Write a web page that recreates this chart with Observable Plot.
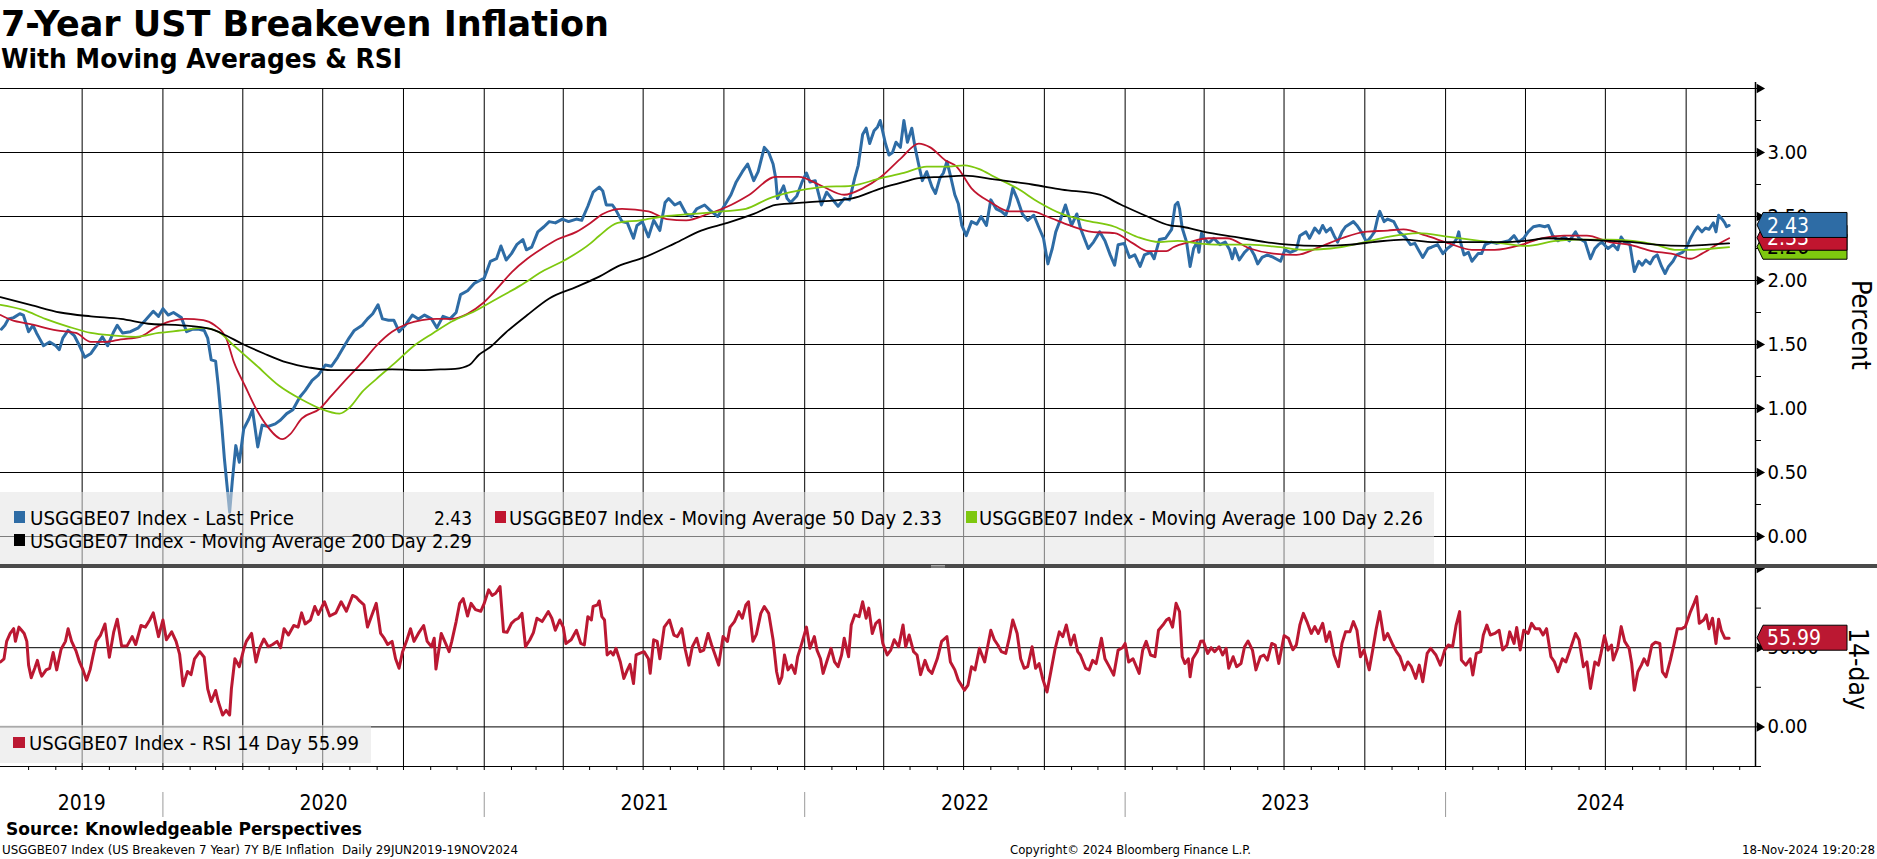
<!DOCTYPE html>
<html><head><meta charset="utf-8">
<script src="https://cdn.jsdelivr.net/npm/d3@7"></script>
<script src="https://cdn.jsdelivr.net/npm/@observablehq/plot@0.6"></script>
<style>
html,body{margin:0;padding:0;background:#fff;}
body{width:1877px;height:859px;overflow:hidden;position:relative;font-family:'DejaVu Sans Condensed','DejaVu Sans',sans-serif;}
#upper{position:absolute;left:0;top:70px;}
#lower{position:absolute;left:0;top:568px;}
#ov{position:absolute;left:0;top:0;pointer-events:none;}
</style></head>
<body>
<div id="upper"></div>
<div id="lower"></div>
<svg id="ov" width="1877" height="859"></svg>
<script>
// ---------- DATA ----------
const lastPrice = [
["2019-07-01",1.62],["2019-07-05",1.65],["2019-07-09",1.70],["2019-07-15",1.71],["2019-07-22",1.74],["2019-07-26",1.73],["2019-08-01",1.60],["2019-08-06",1.65],["2019-08-10",1.59],["2019-08-14",1.54],["2019-08-18",1.49],["2019-08-25",1.52],["2019-09-01",1.49],["2019-09-05",1.46],["2019-09-09",1.55],["2019-09-15",1.61],["2019-09-22",1.57],["2019-09-28",1.49],["2019-10-04",1.40],["2019-10-11",1.43],["2019-10-17",1.49],["2019-10-24",1.56],["2019-10-30",1.49],["2019-11-06",1.60],["2019-11-10",1.65],["2019-11-16",1.59],["2019-11-25",1.60],["2019-12-04",1.63],["2019-12-12",1.69],["2019-12-21",1.76],["2019-12-27",1.72],
["2020-01-01",1.78],["2020-01-07",1.73],["2020-01-13",1.75],["2020-01-22",1.71],["2020-01-28",1.60],["2020-02-04",1.62],["2020-02-10",1.62],["2020-02-17",1.61],["2020-02-21",1.55],["2020-02-25",1.38],["2020-03-01",1.37],["2020-03-04",1.18],["2020-03-08",0.87],["2020-03-11",0.61],["2020-03-14",0.40],["2020-03-17",0.19],["2020-03-20",0.43],["2020-03-24",0.71],["2020-03-28",0.58],["2020-04-02",0.84],["2020-04-08",0.92],["2020-04-12",0.99],["2020-04-18",0.70],["2020-04-23",0.87],["2020-04-30",0.86],["2020-05-08",0.88],["2020-05-14",0.91],["2020-05-21",0.96],["2020-05-28",0.99],["2020-06-05",1.09],["2020-06-11",1.14],["2020-06-19",1.22],["2020-06-26",1.26],["2020-07-04",1.34],["2020-07-11",1.33],["2020-07-18",1.40],["2020-07-24",1.47],["2020-07-31",1.55],["2020-08-06",1.61],["2020-08-15",1.65],["2020-08-21",1.70],["2020-08-27",1.74],["2020-09-02",1.81],["2020-09-07",1.70],["2020-09-14",1.69],["2020-09-20",1.69],["2020-09-26",1.60],["2020-10-03",1.65],["2020-10-11",1.73],["2020-10-18",1.70],["2020-10-25",1.73],["2020-11-02",1.70],["2020-11-08",1.63],["2020-11-15",1.72],["2020-11-23",1.70],["2020-11-30",1.75],["2020-12-05",1.89],["2020-12-13",1.92],["2020-12-21",1.98],["2020-12-27",2.00],
["2021-01-01",2.02],["2021-01-08",2.15],["2021-01-15",2.17],["2021-01-20",2.27],["2021-01-26",2.16],["2021-02-01",2.21],["2021-02-07",2.28],["2021-02-14",2.32],["2021-02-18",2.24],["2021-02-24",2.26],["2021-03-03",2.38],["2021-03-10",2.42],["2021-03-16",2.46],["2021-03-23",2.45],["2021-03-31",2.48],["2021-04-07",2.46],["2021-04-16",2.48],["2021-04-22",2.47],["2021-04-29",2.58],["2021-05-05",2.69],["2021-05-12",2.73],["2021-05-16",2.70],["2021-05-20",2.59],["2021-05-27",2.59],["2021-05-31",2.55],["2021-06-07",2.46],["2021-06-13",2.45],["2021-06-20",2.33],["2021-06-24",2.43],["2021-06-30",2.46],["2021-07-07",2.34],["2021-07-13",2.47],["2021-07-20",2.39],["2021-07-26",2.61],["2021-07-30",2.64],["2021-08-06",2.59],["2021-08-12",2.61],["2021-08-19",2.52],["2021-08-25",2.50],["2021-08-31",2.56],["2021-09-09",2.59],["2021-09-15",2.55],["2021-09-24",2.50],["2021-10-02",2.59],["2021-10-09",2.67],["2021-10-15",2.77],["2021-10-22",2.85],["2021-10-28",2.91],["2021-11-04",2.78],["2021-11-09",2.85],["2021-11-16",3.04],["2021-11-21",3.00],["2021-11-26",2.91],["2021-11-29",2.80],["2021-12-01",2.64],["2021-12-08",2.74],["2021-12-12",2.64],["2021-12-16",2.61],["2021-12-23",2.66],["2021-12-29",2.77],
["2022-01-03",2.84],["2022-01-07",2.77],["2022-01-13",2.78],["2022-01-20",2.59],["2022-01-26",2.69],["2022-02-02",2.63],["2022-02-08",2.58],["2022-02-15",2.64],["2022-02-21",2.63],["2022-02-27",2.80],["2022-03-03",2.90],["2022-03-08",3.14],["2022-03-12",3.19],["2022-03-16",3.07],["2022-03-21",3.17],["2022-03-25",3.20],["2022-03-28",3.25],["2022-04-03",3.07],["2022-04-07",2.98],["2022-04-11",3.00],["2022-04-15",3.08],["2022-04-20",3.04],["2022-04-24",3.25],["2022-04-28",3.08],["2022-05-03",3.19],["2022-05-07",3.03],["2022-05-11",2.90],["2022-05-15",2.78],["2022-05-20",2.85],["2022-05-26",2.73],["2022-05-30",2.68],["2022-06-04",2.80],["2022-06-08",2.84],["2022-06-12",2.93],["2022-06-16",2.82],["2022-06-21",2.67],["2022-06-25",2.60],["2022-06-29",2.43],["2022-07-04",2.35],["2022-07-10",2.46],["2022-07-16",2.44],["2022-07-21",2.50],["2022-07-27",2.43],["2022-08-01",2.63],["2022-08-07",2.56],["2022-08-13",2.54],["2022-08-18",2.51],["2022-08-22",2.59],["2022-08-26",2.72],["2022-08-31",2.64],["2022-09-06",2.52],["2022-09-12",2.47],["2022-09-19",2.51],["2022-09-25",2.41],["2022-09-30",2.33],["2022-10-05",2.13],["2022-10-10",2.25],["2022-10-14",2.38],["2022-10-19",2.47],["2022-10-25",2.59],["2022-11-01",2.43],["2022-11-07",2.52],["2022-11-11",2.41],["2022-11-16",2.32],["2022-11-20",2.25],["2022-11-26",2.30],["2022-12-03",2.38],["2022-12-09",2.31],["2022-12-15",2.20],["2022-12-20",2.12],["2022-12-24",2.28],["2022-12-31",2.29],
["2023-01-06",2.18],["2023-01-12",2.20],["2023-01-18",2.11],["2023-01-23",2.20],["2023-01-30",2.22],["2023-02-03",2.17],["2023-02-09",2.32],["2023-02-16",2.33],["2023-02-23",2.40],["2023-02-27",2.59],["2023-03-02",2.61],["2023-03-04",2.56],["2023-03-07",2.41],["2023-03-12",2.30],["2023-03-16",2.11],["2023-03-20",2.25],["2023-03-24",2.30],["2023-03-26",2.22],["2023-03-29",2.37],["2023-04-01",2.33],["2023-04-06",2.29],["2023-04-12",2.33],["2023-04-19",2.28],["2023-04-25",2.30],["2023-04-30",2.24],["2023-05-03",2.17],["2023-05-06",2.25],["2023-05-11",2.16],["2023-05-17",2.22],["2023-05-23",2.26],["2023-05-28",2.20],["2023-06-01",2.13],["2023-06-06",2.18],["2023-06-12",2.20],["2023-06-19",2.18],["2023-06-27",2.15],["2023-07-02",2.24],["2023-07-08",2.22],["2023-07-15",2.24],["2023-07-19",2.35],["2023-07-26",2.38],["2023-07-30",2.33],["2023-08-05",2.41],["2023-08-10",2.37],["2023-08-14",2.43],["2023-08-18",2.38],["2023-08-23",2.41],["2023-08-27",2.35],["2023-08-31",2.30],["2023-09-05",2.38],["2023-09-09",2.42],["2023-09-18",2.46],["2023-09-22",2.43],["2023-09-27",2.38],["2023-10-03",2.30],["2023-10-08",2.34],["2023-10-12",2.38],["2023-10-16",2.50],["2023-10-18",2.54],["2023-10-23",2.46],["2023-10-27",2.48],["2023-11-03",2.46],["2023-11-09",2.38],["2023-11-16",2.34],["2023-11-22",2.28],["2023-11-27",2.29],["2023-12-01",2.24],["2023-12-06",2.18],["2023-12-12",2.25],["2023-12-16",2.26],["2023-12-23",2.28],["2023-12-29",2.21],
["2024-01-03",2.25],["2024-01-09",2.28],["2024-01-14",2.33],["2024-01-16",2.38],["2024-01-18",2.30],["2024-01-22",2.20],["2024-01-27",2.22],["2024-01-31",2.15],["2024-02-07",2.21],["2024-02-11",2.21],["2024-02-15",2.28],["2024-02-22",2.30],["2024-02-28",2.29],["2024-03-06",2.30],["2024-03-13",2.31],["2024-03-19",2.35],["2024-03-24",2.30],["2024-03-30",2.33],["2024-04-04",2.38],["2024-04-10",2.42],["2024-04-17",2.43],["2024-04-23",2.42],["2024-04-27",2.43],["2024-05-02",2.35],["2024-05-08",2.31],["2024-05-15",2.34],["2024-05-21",2.31],["2024-05-28",2.38],["2024-06-01",2.33],["2024-06-08",2.30],["2024-06-14",2.17],["2024-06-19",2.25],["2024-06-23",2.28],["2024-06-27",2.30],["2024-07-04",2.25],["2024-07-10",2.28],["2024-07-15",2.24],["2024-07-19",2.34],["2024-07-23",2.30],["2024-07-29",2.28],["2024-08-01",2.15],["2024-08-03",2.07],["2024-08-08",2.15],["2024-08-12",2.12],["2024-08-16",2.16],["2024-08-21",2.13],["2024-08-25",2.18],["2024-08-29",2.20],["2024-09-03",2.11],["2024-09-07",2.055],["2024-09-11",2.11],["2024-09-16",2.15],["2024-09-20",2.20],["2024-09-27",2.22],["2024-10-01",2.25],["2024-10-06",2.33],["2024-10-10",2.38],["2024-10-14",2.42],["2024-10-19",2.38],["2024-10-23",2.41],["2024-10-27",2.40],["2024-11-01",2.45],["2024-11-04",2.38],["2024-11-07",2.51],["2024-11-12",2.47],["2024-11-14",2.45],["2024-11-16",2.42],["2024-11-19",2.43]
];
const ma50 = [
["2019-06-30",1.73],["2019-07-13",1.69],["2019-08-03",1.66],["2019-09-02",1.61],["2019-09-24",1.59],["2019-10-11",1.52],["2019-10-28",1.52],["2019-11-14",1.54],["2019-12-06",1.56],["2019-12-23",1.63],["2020-01-09",1.68],["2020-01-26",1.70],["2020-02-16",1.69],["2020-02-29",1.65],["2020-03-13",1.55],["2020-03-22",1.36],["2020-04-04",1.17],["2020-04-16",1.00],["2020-04-29",0.86],["2020-05-16",0.76],["2020-05-25",0.80],["2020-06-07",0.92],["2020-06-28",1.00],["2020-07-11",1.10],["2020-07-28",1.23],["2020-08-15",1.36],["2020-08-31",1.49],["2020-09-18",1.60],["2020-10-05",1.66],["2020-10-22",1.69],["2020-11-08",1.70],["2020-11-25",1.70],["2020-12-13",1.74],["2020-12-30",1.82],["2021-01-16",1.94],["2021-02-02",2.07],["2021-02-19",2.17],["2021-03-08",2.25],["2021-03-25",2.32],["2021-04-16",2.38],["2021-05-02",2.45],["2021-05-16",2.52],["2021-06-07",2.56],["2021-07-07",2.54],["2021-07-28",2.48],["2021-08-19",2.47],["2021-09-13",2.52],["2021-10-09",2.59],["2021-10-30",2.67],["2021-11-29",2.81],["2021-12-25",2.81],["2022-01-20",2.74],["2022-02-15",2.67],["2022-03-08",2.72],["2022-03-29",2.81],["2022-04-20",2.95],["2022-05-11",3.07],["2022-05-24",3.04],["2022-06-10",2.94],["2022-06-23",2.89],["2022-07-10",2.72],["2022-08-01",2.61],["2022-08-22",2.54],["2022-09-17",2.54],["2022-10-04",2.50],["2022-10-30",2.43],["2022-11-24",2.38],["2022-12-20",2.37],["2023-01-10",2.29],["2023-01-27",2.23],["2023-02-17",2.23],["2023-02-25",2.26],["2023-03-15",2.30],["2023-04-06",2.33],["2023-04-27",2.33],["2023-05-23",2.25],["2023-06-19",2.21],["2023-07-15",2.20],["2023-08-10",2.26],["2023-09-05",2.33],["2023-10-01",2.38],["2023-10-27",2.39],["2023-11-14",2.40],["2023-12-10",2.35],["2024-01-05",2.29],["2024-01-31",2.24],["2024-02-26",2.24],["2024-03-28",2.28],["2024-04-19",2.33],["2024-05-15",2.35],["2024-06-10",2.35],["2024-07-06",2.30],["2024-07-28",2.28],["2024-08-23",2.23],["2024-09-14",2.21],["2024-10-06",2.17],["2024-10-19",2.21],["2024-11-05",2.28],["2024-11-19",2.33]
];
const ma100 = [
["2019-06-30",1.81],["2019-07-26",1.77],["2019-08-20",1.70],["2019-09-15",1.64],["2019-10-11",1.59],["2019-11-06",1.57],["2019-12-01",1.56],["2019-12-27",1.59],["2020-01-22",1.61],["2020-02-16",1.63],["2020-03-04",1.60],["2020-03-22",1.49],["2020-04-16",1.34],["2020-05-12",1.18],["2020-06-07",1.07],["2020-06-28",1.00],["2020-07-20",0.96],["2020-08-01",1.01],["2020-08-15",1.13],["2020-08-31",1.23],["2020-09-22",1.36],["2020-10-13",1.49],["2020-11-04",1.59],["2020-11-25",1.68],["2020-12-21",1.76],["2021-01-16",1.86],["2021-02-11",1.96],["2021-03-08",2.07],["2021-04-03",2.16],["2021-05-02",2.29],["2021-05-12",2.35],["2021-06-02",2.45],["2021-06-28",2.47],["2021-07-24",2.50],["2021-08-27",2.52],["2021-09-30",2.54],["2021-10-26",2.56],["2021-11-21",2.64],["2021-12-16",2.69],["2022-01-20",2.73],["2022-02-23",2.74],["2022-03-29",2.80],["2022-04-24",2.84],["2022-05-20",2.89],["2022-06-14",2.89],["2022-07-02",2.90],["2022-07-19",2.87],["2022-08-05",2.81],["2022-08-31",2.72],["2022-09-25",2.61],["2022-10-21",2.52],["2022-11-16",2.47],["2022-12-20",2.42],["2023-01-15",2.34],["2023-02-09",2.30],["2023-03-02",2.31],["2023-03-24",2.29],["2023-04-19",2.28],["2023-05-23",2.28],["2023-06-27",2.26],["2023-07-23",2.24],["2023-08-23",2.25],["2023-10-01",2.30],["2023-10-27",2.34],["2023-12-01",2.37],["2024-01-05",2.34],["2024-02-09",2.31],["2024-03-06",2.29],["2024-04-01",2.27],["2024-05-06",2.31],["2024-06-01",2.32],["2024-07-06",2.32],["2024-08-01",2.31],["2024-08-27",2.28],["2024-09-18",2.24],["2024-10-10",2.24],["2024-11-01",2.25],["2024-11-19",2.26]
];
const ma200 = [
["2019-06-30",1.87],["2019-08-03",1.81],["2019-09-06",1.75],["2019-10-11",1.72],["2019-11-14",1.70],["2019-12-19",1.66],["2020-01-22",1.65],["2020-02-25",1.62],["2020-03-13",1.57],["2020-03-30",1.51],["2020-04-25",1.43],["2020-05-21",1.36],["2020-06-16",1.32],["2020-07-11",1.30],["2020-08-15",1.30],["2020-09-18",1.305],["2020-10-22",1.30],["2020-11-12",1.305],["2020-11-29",1.31],["2020-12-15",1.34],["2020-12-26",1.42],["2021-01-08",1.48],["2021-01-25",1.59],["2021-02-19",1.73],["2021-03-16",1.86],["2021-04-16",1.95],["2021-05-12",2.03],["2021-06-02",2.11],["2021-07-02",2.18],["2021-08-06",2.29],["2021-09-05",2.39],["2021-10-05",2.45],["2021-11-04",2.52],["2021-11-29",2.59],["2022-01-03",2.61],["2022-02-23",2.64],["2022-03-29",2.72],["2022-04-24",2.77],["2022-05-11",2.80],["2022-06-06",2.81],["2022-07-02",2.82],["2022-08-05",2.79],["2022-09-17",2.75],["2022-10-21",2.71],["2022-12-03",2.67],["2022-12-28",2.59],["2023-01-23",2.51],["2023-02-21",2.43],["2023-03-07",2.42],["2023-04-01",2.38],["2023-05-06",2.34],["2023-06-10",2.30],["2023-07-06",2.28],["2023-08-10",2.27],["2023-09-14",2.28],["2023-10-10",2.30],["2023-11-14",2.32],["2023-12-19",2.30],["2024-01-22",2.30],["2024-03-06",2.30],["2024-04-01",2.31],["2024-04-27",2.33],["2024-06-01",2.32],["2024-07-06",2.31],["2024-08-01",2.30],["2024-08-27",2.28],["2024-10-01",2.27],["2024-10-27",2.28],["2024-11-19",2.29]
];
const rsi14 = [
["2019-06-30",41],["2019-07-04",43],["2019-07-07",54],["2019-07-11",59],["2019-07-15",62],["2019-07-17",54],["2019-07-21",63],["2019-07-24",61],["2019-07-27",59],["2019-07-30",54],["2019-08-01",39],["2019-08-04",31],["2019-08-08",37],["2019-08-11",42],["2019-08-14",35],["2019-08-16",32],["2019-08-21",36],["2019-08-25",37],["2019-08-29",47],["2019-09-02",36],["2019-09-07",49],["2019-09-12",54],["2019-09-15",62],["2019-09-19",54],["2019-09-24",48],["2019-09-28",41],["2019-10-02",36],["2019-10-06",29.5],["2019-10-10",36],["2019-10-13",44],["2019-10-17",54],["2019-10-22",58],["2019-10-27",65],["2019-11-01",44],["2019-11-06",60],["2019-11-10",68],["2019-11-15",51],["2019-11-21",51],["2019-11-27",57],["2019-12-01",52],["2019-12-07",64],["2019-12-12",63],["2019-12-17",67.5],["2019-12-21",72],["2019-12-27",57],
["2020-01-01",67.5],["2020-01-05",55],["2020-01-11",60],["2020-01-16",54],["2020-01-20",46],["2020-01-24",26],["2020-01-29",35],["2020-02-02",33],["2020-02-06",43],["2020-02-12",47.5],["2020-02-17",44],["2020-02-21",24],["2020-02-25",16],["2020-03-01",23],["2020-03-04",16],["2020-03-09",7.5],["2020-03-13",10.5],["2020-03-17",7.5],["2020-03-19",24],["2020-03-23",43],["2020-03-28",38],["2020-04-02",49],["2020-04-05",54],["2020-04-11",59],["2020-04-16",41],["2020-04-20",49.6],["2020-04-25",55.5],["2020-04-30",50.6],["2020-05-05",52],["2020-05-10",54],["2020-05-14",50],["2020-05-18",62],["2020-05-23",58],["2020-05-29",64],["2020-06-03",63],["2020-06-07",72],["2020-06-11",65],["2020-06-17",67.5],["2020-06-22",76],["2020-06-26",71],["2020-07-03",79],["2020-07-09",70],["2020-07-16",72],["2020-07-22",79],["2020-07-28",73],["2020-08-04",83],["2020-08-08",82],["2020-08-12",79.5],["2020-08-17",77],["2020-08-21",63],["2020-08-27",72],["2020-08-31",78],["2020-09-05",59],["2020-09-09",56],["2020-09-13",52],["2020-09-18",54],["2020-09-22",43],["2020-09-26",37],["2020-09-30",47.5],["2020-10-05",55],["2020-10-09",62],["2020-10-13",54],["2020-10-18",59],["2020-10-24",64],["2020-10-28",54],["2020-11-02",50.6],["2020-11-05",56],["2020-11-07",36.5],["2020-11-10",47.5],["2020-11-13",59],["2020-11-18",52.7],["2020-11-22",47.5],["2020-11-25",54],["2020-11-30",66.5],["2020-12-04",78],["2020-12-08",81],["2020-12-13",70],["2020-12-17",78],["2020-12-22",74],["2020-12-28",73],
["2021-01-01",78],["2021-01-06",86.5],["2021-01-10",83],["2021-01-14",84.4],["2021-01-19",88.6],["2021-01-23",60],["2021-01-27",59.7],["2021-02-01",65.4],["2021-02-05",67.5],["2021-02-09",68.6],["2021-02-13",71.7],["2021-02-17",50.6],["2021-02-22",55],["2021-02-26",59.5],["2021-03-02",68.6],["2021-03-08",66.5],["2021-03-15",72.8],["2021-03-19",68.6],["2021-03-23",61],["2021-03-28",67.5],["2021-04-01",63],["2021-04-04",52.7],["2021-04-10",55],["2021-04-16",61],["2021-04-21",52.7],["2021-04-25",51.7],["2021-04-29",69.6],["2021-05-03",67.5],["2021-05-05",76],["2021-05-10",77],["2021-05-12",79.5],["2021-05-15",69.6],["2021-05-18",67.5],["2021-05-21",45.4],["2021-05-25",47.5],["2021-05-28",45.4],["2021-05-31",49.6],["2021-06-05",41],["2021-06-09",30.6],["2021-06-13",36],["2021-06-16",39.5],["2021-06-20",27.4],["2021-06-23",45.4],["2021-06-27",46.4],["2021-07-02",47.5],["2021-07-07",43],["2021-07-09",33.8],["2021-07-13",55],["2021-07-17",54],["2021-07-20",43],["2021-07-25",63],["2021-07-31",67.5],["2021-08-05",58],["2021-08-09",57],["2021-08-14",62],["2021-08-18",48.7],["2021-08-22",39],["2021-08-26",50.6],["2021-08-31",56],["2021-09-04",47.5],["2021-09-08",48.5],["2021-09-13",59],["2021-09-17",51.7],["2021-09-21",45.4],["2021-09-25",39],["2021-09-30",57],["2021-10-05",54],["2021-10-08",63],["2021-10-13",66.5],["2021-10-18",72.8],["2021-10-22",68.6],["2021-10-26",77],["2021-10-29",79],["2021-11-03",54],["2021-11-07",58.4],["2021-11-12",71.7],["2021-11-16",76],["2021-11-21",71.7],["2021-11-26",55],["2021-11-30",34.8],["2021-12-03",27.4],["2021-12-06",31.6],["2021-12-09",45.4],["2021-12-13",36],["2021-12-17",39],["2021-12-21",33.8],["2021-12-24",44.3],["2021-12-27",49.6],
["2022-01-01",59],["2022-01-03",63],["2022-01-07",49.6],["2022-01-12",57],["2022-01-15",48.5],["2022-01-19",43],["2022-01-22",33.8],["2022-01-26",41],["2022-01-31",49.6],["2022-02-04",41],["2022-02-08",38],["2022-02-12",45.4],["2022-02-15",56],["2022-02-20",44.3],["2022-02-23",64.3],["2022-02-27",70.7],["2022-03-04",69.6],["2022-03-08",79],["2022-03-12",68.6],["2022-03-15",75],["2022-03-19",59],["2022-03-23",65.4],["2022-03-27",67.5],["2022-03-31",52.7],["2022-04-05",45.4],["2022-04-09",48.5],["2022-04-13",55],["2022-04-18",50.6],["2022-04-23",64.3],["2022-04-26",50.6],["2022-04-30",58],["2022-05-05",47.5],["2022-05-09",45.4],["2022-05-13",33],["2022-05-18",42],["2022-05-22",36],["2022-05-26",33.8],["2022-06-01",43],["2022-06-06",54],["2022-06-12",57],["2022-06-16",41],["2022-06-21",36],["2022-06-25",29.5],["2022-07-02",23.2],["2022-07-06",26.4],["2022-07-10",38],["2022-07-14",36],["2022-07-19",49.6],["2022-07-25",41],["2022-08-01",61],["2022-08-05",55],["2022-08-09",51.7],["2022-08-13",47.5],["2022-08-18",46.4],["2022-08-22",56],["2022-08-26",67.5],["2022-08-31",59],["2022-09-04",43],["2022-09-08",37],["2022-09-12",38],["2022-09-17",50.6],["2022-09-21",37],["2022-09-25",40],["2022-09-29",30.6],["2022-10-04",22],["2022-10-08",33.8],["2022-10-13",48.7],["2022-10-18",60],["2022-10-22",57],["2022-10-26",64.3],["2022-10-31",51.7],["2022-11-04",58],["2022-11-08",47.5],["2022-11-11",45.4],["2022-11-17",37],["2022-11-21",36],["2022-11-25",42],["2022-11-29",40],["2022-12-05",56],["2022-12-09",43],["2022-12-13",39],["2022-12-19",32.7],["2022-12-24",48.5],["2022-12-29",50],
["2023-01-01",52.7],["2023-01-05",41],["2023-01-10",43],["2023-01-17",33.8],["2023-01-21",48.5],["2023-01-25",54],["2023-01-30",45.4],["2023-02-04",44.3],["2023-02-08",61],["2023-02-13",64.3],["2023-02-17",67.5],["2023-02-20",68.6],["2023-02-24",63],["2023-02-28",78],["2023-03-04",72.8],["2023-03-07",44.3],["2023-03-10",40],["2023-03-14",43],["2023-03-16",31.6],["2023-03-19",43],["2023-03-24",47.5],["2023-03-28",54],["2023-03-31",54.2],["2023-04-05",46.4],["2023-04-09",50],["2023-04-13",47.5],["2023-04-18",50.6],["2023-04-22",45.4],["2023-04-26",49.6],["2023-04-29",37],["2023-05-04",44.3],["2023-05-08",38],["2023-05-13",40],["2023-05-17",50.6],["2023-05-21",54.2],["2023-05-26",48.5],["2023-05-30",36],["2023-06-04",44.3],["2023-06-08",45.4],["2023-06-12",42.2],["2023-06-17",52.7],["2023-06-21",51.7],["2023-06-25",40],["2023-07-01",57.6],["2023-07-06",56],["2023-07-11",48.7],["2023-07-15",51.7],["2023-07-19",64.3],["2023-07-23",71.7],["2023-07-27",66.5],["2023-08-01",59],["2023-08-05",63.3],["2023-08-09",59],["2023-08-14",65.4],["2023-08-18",54],["2023-08-22",60],["2023-08-27",45.4],["2023-09-01",38],["2023-09-05",52.7],["2023-09-09",60],["2023-09-14",60],["2023-09-18",66.5],["2023-09-22",61],["2023-09-26",44.3],["2023-09-30",48.5],["2023-10-06",36],["2023-10-10",48.5],["2023-10-14",62],["2023-10-18",72.8],["2023-10-23",55],["2023-10-27",59],["2023-11-02",51.7],["2023-11-06",47.5],["2023-11-10",44.3],["2023-11-15",36],["2023-11-19",41],["2023-11-23",38],["2023-11-28",30.6],["2023-12-02",39],["2023-12-06",28.5],["2023-12-11",46.4],["2023-12-15",49.6],["2023-12-21",45.4],["2023-12-26",39],["2023-12-31",48.5],
["2024-01-04",51.7],["2024-01-09",50.6],["2024-01-13",64.3],["2024-01-17",72.8],["2024-01-19",42.2],["2024-01-24",39],["2024-01-29",43],["2024-02-01",32.7],["2024-02-05",46.4],["2024-02-10",47.5],["2024-02-13",58],["2024-02-17",64.3],["2024-02-21",58],["2024-02-26",59],["2024-03-02",61],["2024-03-06",48.5],["2024-03-11",51.7],["2024-03-14",60],["2024-03-19",52.7],["2024-03-22",62.7],["2024-03-26",48.5],["2024-03-30",61],["2024-04-04",59],["2024-04-08",65.4],["2024-04-12",62],["2024-04-17",62],["2024-04-21",58],["2024-04-25",62],["2024-04-30",44.3],["2024-05-04",41],["2024-05-08",34.8],["2024-05-13",43],["2024-05-17",41],["2024-05-21",47.5],["2024-05-28",59],["2024-06-01",55],["2024-06-06",38],["2024-06-10",41],["2024-06-14",24.3],["2024-06-19",41],["2024-06-23",39],["2024-06-26",46.4],["2024-06-30",57.6],["2024-07-04",48.5],["2024-07-08",51.7],["2024-07-10",42.2],["2024-07-15",49.6],["2024-07-19",63.3],["2024-07-23",54],["2024-07-28",49.6],["2024-07-31",40],["2024-08-03",23.2],["2024-08-07",34.8],["2024-08-11",39],["2024-08-14",43],["2024-08-18",39],["2024-08-23",51.7],["2024-08-27",53.4],["2024-09-01",52.7],["2024-09-04",34.8],["2024-09-08",31.6],["2024-09-13",42.2],["2024-09-17",51.7],["2024-09-21",62],["2024-09-26",62],["2024-09-30",63.3],["2024-10-06",72.8],["2024-10-10",78],["2024-10-13",82.3],["2024-10-16",65.4],["2024-10-21",67.5],["2024-10-24",70.7],["2024-10-27",62],["2024-10-31",68.6],["2024-11-04",52.7],["2024-11-07",68],["2024-11-10",61],["2024-11-14",56],["2024-11-19",55.99]
];
const priceGrid = [0, 0.5, 1, 1.5, 2, 2.5, 3, 3.5];
const priceLabels = [0, 0.5, 1, 1.5, 2, 2.5, 3];
const priceMinor = [-0.25, 0, 0.25, 0.5, 0.75, 1, 1.25, 1.5, 1.75, 2, 2.25, 2.5, 2.75, 3, 3.25, 3.5];
const rsiGrid = [0, 50];
const rsiArrows = [0, 50, 100];
const rsiMinor = [-25, 0, 25, 50, 75, 100];
const dateRange = ["2019-06-30", "2024-12-19"];
const seriesName = "USGGBE07 Index";

// ---------- CHART ----------
const F = "'DejaVu Sans Condensed','DejaVu Sans',sans-serif";
const BLUE = "#2e6ca5", RED = "#c0152f", GREEN = "#7ec80f", RSIRED = "#bb1832";
const parse = d3.utcParse("%Y-%m-%d");
const rows = a => a.map(([d, v]) => ({date: parse(d), value: v}));
const xDomain = dateRange.map(parse);
const end = xDomain[1];
const quarters = d3.utcMonth.every(3).range(d3.utcDay.offset(xDomain[0], 3), end);
const months = d3.utcMonth.range(d3.utcDay.offset(xDomain[0], 3), end);
const yearStarts = d3.utcYear.range(xDomain[0], end);
const yearCenters = d3.utcYear.range(d3.utcYear.floor(xDomain[0]), end).map(y => {
  const a = Math.max(+y, +xDomain[0]), b = Math.min(+d3.utcYear.offset(y, 1), +end);
  return new Date((a + b) / 2);
});
const fmt2 = d3.format(".2f");
const lastVal = a => a[a.length - 1][1];
const grid = {stroke: "#000", strokeOpacity: 1, strokeWidth: 1};

const upper = Plot.plot({
  width: 1877, height: 498, marginTop: 18, marginRight: 122, marginBottom: 0, marginLeft: 0,
  style: {fontFamily: F, fontSize: "20px", background: "transparent", overflow: "visible", color: "#000"},
  x: {type: "utc", domain: xDomain, axis: null},
  y: {domain: [-0.25, 3.5], axis: null},
  marks: [
    Plot.gridX(quarters, grid),
    Plot.gridY(priceGrid, grid),
    Plot.line(rows(lastPrice), {x: "date", y: "value", stroke: BLUE, strokeWidth: 3, strokeLinejoin: "round"}),
    Plot.line(rows(ma50), {x: "date", y: "value", stroke: RED, strokeWidth: 1.8, curve: "monotone-x"}),
    Plot.line(rows(ma100), {x: "date", y: "value", stroke: GREEN, strokeWidth: 1.8, curve: "monotone-x"}),
    Plot.line(rows(ma200), {x: "date", y: "value", stroke: "#000", strokeWidth: 1.8, curve: "monotone-x"}),
    Plot.ruleX([end], {stroke: "#000", strokeWidth: 1.5, insetTop: -6}),
    Plot.axisY(priceMinor, {anchor: "right", tickSize: 5, tickFormat: () => "", strokeWidth: 1, label: null}),
    Plot.dot(priceGrid, {x: () => end, y: d => d, symbol: "triangle", r: 3.6, fill: "#000", stroke: null, rotate: 90, dx: 4}),
    Plot.axisY(priceLabels, {anchor: "right", tickSize: 0, tickPadding: 12, tickFormat: fmt2, fontSize: 20, fill: "#000", label: null})
  ]
});
document.getElementById("upper").append(upper);

const lower = Plot.plot({
  width: 1877, height: 262, marginTop: 0, marginRight: 122, marginBottom: 64, marginLeft: 0,
  style: {fontFamily: F, fontSize: "20px", background: "transparent", overflow: "visible", color: "#000"},
  x: {type: "utc", domain: xDomain, axis: null},
  y: {domain: [-25, 100], axis: null},
  marks: [
    Plot.gridX(quarters, grid),
    Plot.gridY(rsiGrid, grid),
    Plot.line(rows(rsi14), {x: "date", y: "value", stroke: RSIRED, strokeWidth: 3, strokeLinejoin: "round"}),
    Plot.frame({anchor: "bottom", stroke: "#000", strokeWidth: 1.2}),
    Plot.ruleX([end], {stroke: "#000", strokeWidth: 1.5}),
    Plot.axisY(rsiMinor, {anchor: "right", tickSize: 5, tickFormat: () => "", strokeWidth: 1, label: null}),
    Plot.dot(rsiArrows, {x: () => end, y: d => d, symbol: "triangle", r: 3.6, fill: "#000", stroke: null, rotate: 90, dx: 4}),
    Plot.axisY(rsiGrid, {anchor: "right", tickSize: 0, tickPadding: 12, tickFormat: fmt2, fontSize: 20, fill: "#000", label: null}),
    Plot.axisX(months, {anchor: "bottom", tickSize: 4, tickFormat: () => "", strokeWidth: 1, label: null}),
    Plot.axisX(yearStarts, {anchor: "bottom", tickSize: 25, tickFormat: () => "", stroke: "#9a9a9a", strokeWidth: 1, dy: 26, label: null}),
    Plot.axisX(yearCenters, {anchor: "bottom", tickSize: 0, tickPadding: 0, dy: 29, tickFormat: d3.utcFormat("%Y"), fontSize: 21, fill: "#000", label: null})
  ]
});
document.getElementById("lower").append(lower);

// value tags on the right axis, positioned with the charts' own scales
function tag(chart, value, fill, color) {
  const y = chart.scale("y").apply(value);
  const x0 = chart.scale("x").apply(end);
  const g = d3.select(chart).append("g");
  g.append("path")
    .attr("d", `M${x0 + 2},${y} L${x0 + 8},${y - 12.5} H${x0 + 92} V${y + 12.5} H${x0 + 8} Z`)
    .attr("fill", fill).attr("stroke", "#000").attr("stroke-width", 1);
  g.append("text").attr("x", x0 + 12).attr("y", y).attr("dy", "0.36em")
    .attr("text-anchor", "start")
    .attr("fill", color).attr("font-size", 21).attr("font-family", F).text(fmt2(value));
}
tag(upper, lastVal(ma100), GREEN, "#000");
tag(upper, lastVal(ma50), RED, "#fff");
tag(upper, lastVal(lastPrice), BLUE, "#fff");
tag(lower, lastVal(rsi14), RSIRED, "#fff");

// ---------- TEXT, LEGENDS, SEPARATOR ----------
const ov = d3.select("#ov").attr("font-family", F);
function txt(x, y, s, size, o = {}) {
  const t = ov.append("text").attr("x", x).attr("y", y).attr("font-size", size).attr("fill", "#000").text(s);
  if (o.bold) t.attr("font-weight", "bold");
  if (o.len) t.attr("textLength", o.len).attr("lengthAdjust", "spacingAndGlyphs");
  if (o.anchor) t.attr("text-anchor", o.anchor);
  if (o.transform) t.attr("transform", o.transform);
  return t;
}
// separator between panels
ov.append("rect").attr("x", 0).attr("y", 564).attr("width", 1877).attr("height", 4).attr("fill", "#4a4a4a");
ov.append("rect").attr("x", 931).attr("y", 565).attr("width", 14).attr("height", 0.8).attr("fill", "#bbb");
ov.append("rect").attr("x", 931).attr("y", 566.6).attr("width", 14).attr("height", 0.8).attr("fill", "#bbb");

txt(1, 36, "7-Year UST Breakeven Inflation", 35, {bold: true, len: 608});
txt(1, 68, "With Moving Averages & RSI", 26, {bold: true, len: 401});

// upper legend
ov.append("rect").attr("x", 0).attr("y", 492).attr("width", 1434).attr("height", 72).attr("fill", "rgba(228,228,228,0.55)");
const sq = (x, y, c) => ov.append("rect").attr("x", x).attr("y", y).attr("width", 11).attr("height", 12).attr("fill", c);
sq(14, 511, BLUE);
txt(30, 524.5, `${seriesName} - Last Price`, 19, {len: 264});
txt(472, 524.5, fmt2(lastVal(lastPrice)), 19, {anchor: "end"});
sq(495, 511, RED);
txt(509, 524.5, `${seriesName} - Moving Average 50 Day ${fmt2(lastVal(ma50))}`, 19, {len: 433});
sq(966, 511, GREEN);
txt(979, 524.5, `${seriesName} - Moving Average 100 Day ${fmt2(lastVal(ma100))}`, 19, {len: 444});
sq(14, 534, "#000");
txt(30, 547.5, `${seriesName} - Moving Average 200 Day ${fmt2(lastVal(ma200))}`, 19, {len: 442});

// lower legend
ov.append("rect").attr("x", 0).attr("y", 725).attr("width", 371).attr("height", 38).attr("fill", "rgba(228,228,228,0.55)");
ov.append("rect").attr("x", 13).attr("y", 737).attr("width", 12).attr("height", 11).attr("fill", RSIRED);
txt(29, 750, `${seriesName} - RSI 14 Day ${fmt2(lastVal(rsi14))}`, 19, {len: 330});

// axis titles
txt(0, 0, "Percent", 26, {anchor: "middle", len: 90, transform: "translate(1852,325) rotate(90)"});
txt(0, 0, "14-day", 26, {anchor: "middle", len: 82, transform: "translate(1849,669) rotate(90)"});

// footer
txt(6, 835, "Source: Knowledgeable Perspectives", 18, {bold: true, len: 356});
txt(2, 854, "USGGBE07 Index (US Breakeven 7 Year) 7Y B/E Inflation\u00a0 Daily 29JUN2019-19NOV2024", 12, {len: 516});
txt(1010, 854, "Copyright\u00a9 2024 Bloomberg Finance L.P.", 12, {len: 241});
txt(1875, 854, "18-Nov-2024 19:20:28", 12, {anchor: "end", len: 133});
</script>
</body></html>
